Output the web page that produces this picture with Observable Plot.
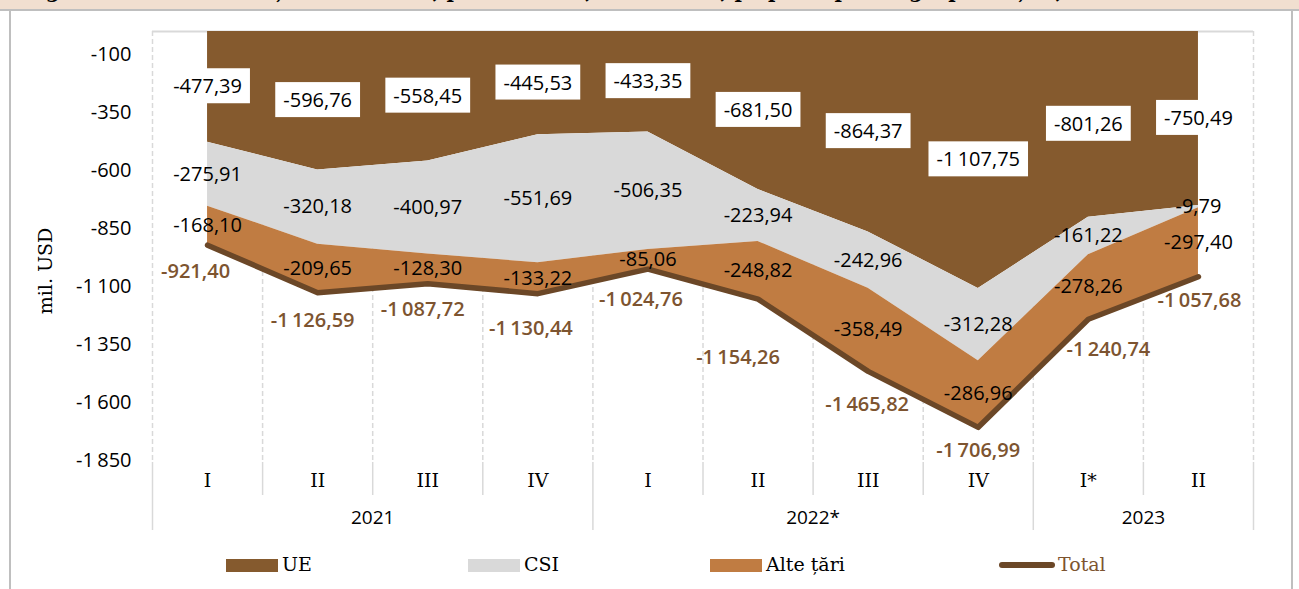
<!DOCTYPE html>
<html>
<head>
<meta charset="utf-8">
<script src="https://cdn.jsdelivr.net/npm/d3@7"></script>
<script src="https://cdn.jsdelivr.net/npm/@observablehq/plot@0.6"></script>
<style>
  body { margin: 0; background: #fff; }
  #wrap { position: relative; width: 1299px; height: 589px; overflow: hidden; background: #fff; }
  #band { position: absolute; left: 0; top: 0; width: 1299px; height: 9px; background: #f1dfd0; border-bottom: 2px solid #bfbfbf; overflow: hidden; z-index: 2; }
  #band span { position: absolute; left: 24px; top: -21px; font: bold 20px "DejaVu Serif", serif; white-space: nowrap; color: #000; }
  #lb, #rb { position: absolute; top: 10px; width: 2px; height: 579px; background: #bfbfbf; z-index: 2; }
  #lb { left: 9px; } #rb { left: 1291px; }
  #chart { position: absolute; left: 0; top: 0; }
  .sw { position: absolute; top: 559px; width: 52px; height: 13px; }
  .lt { position: absolute; top: 553px; height: 25px; line-height: 25px; font: 19px "DejaVu Serif", serif; color: #000; white-space: nowrap; }
  .ln { position: absolute; top: 562px; left: 999px; width: 56px; height: 6px; border-radius: 3px; background: #6b4727; }
</style>
</head>
<body>
<div id="wrap">
  <div id="chart"></div>
  <div id="band"><span>Figura 7. Soldul balanței comerciale, pe trimestre, 2021–2023, pe principalele grupe de țări, mil. USD</span></div>
  <div id="lb"></div><div id="rb"></div>
  <div id="legend"></div>
</div>
<script>
// ---- data ----
const quarters = ["I", "II", "III", "IV", "I", "II", "III", "IV", "I*", "II"];
const years = ["2021", "2021", "2021", "2021", "2022*", "2022*", "2022*", "2022*", "2023", "2023"];
const ue    = [-477.39, -596.76, -558.45, -445.53, -433.35, -681.50, -864.37, -1107.75, -801.26, -750.49];
const csi   = [-275.91, -320.18, -400.97, -551.69, -506.35, -223.94, -242.96, -312.28, -161.22, -9.79];
const alte  = [-168.10, -209.65, -128.30, -133.22, -85.06, -248.82, -358.49, -286.96, -278.26, -297.40];
const total = [-921.40, -1126.59, -1087.72, -1130.44, -1024.76, -1154.26, -1465.82, -1706.99, -1240.74, -1057.68];
const yTicks = [-1850, -1600, -1350, -1100, -850, -600, -350, -100];
const seriesNames = ["UE", "CSI", "Alte țări"];
const totalName = "Total";
const yAxisLabel = "mil. USD";

// ---- styling / layout config ----
const colors = ["#855a2e", "#d9d9d9", "#c07c42"];
const totalColor = "#6b4727";
const totalTextColor = "#7d5430";
// pixel nudges of the total labels relative to their point (as placed in the original)
const totalNudge = [[-12, 26], [-5, 28], [-5, 26], [-7, 35], [-7, 30], [-20, 58], [-1, 33], [0, 23], [20, 30], [1, 24]];

const loc = d3.formatLocale({decimal: ",", thousands: "\u2009", grouping: [3], currency: ["", ""], minus: "-"});
const f2 = loc.format(",.2f");
const f0 = loc.format(",d");

// stacked table
const stack = [];
const vals = [ue, csi, alte];
quarters.forEach((q, i) => {
  let base = 0;
  vals.forEach((arr, s) => {
    const top = base + arr[i];
    stack.push({i, series: seriesNames[s], y1: base, y2: top, v: arr[i], mid: (base + top) / 2});
    base = top;
  });
});
const totals = total.map((v, i) => ({i, v}));
const n = quarters.length;
const bounds = d3.range(n + 1).map(k => k - 0.5);
const yearBounds = bounds.filter((b, k) => k === 0 || k === n || years[k] !== years[k - 1]);
const innerBounds = bounds.filter(b => !yearBounds.includes(b));
const yearGroups = Array.from(d3.group(quarters.map((q, i) => ({i, y: years[i]})), d => d.y), ([y, arr]) => ({year: y, c: d3.mean(arr, d => d.i)}));
const ueRows = stack.filter(d => d.series === seriesNames[0]);
const ueLabelSet = new Set(ueRows.map(d => f2(d.v)));

const W = 1299, H = 545, mT = 31, mB = 85, mL = 152, mR = 46;
const frameH = H - mT - mB;
const numFont = "'Open Sans', sans-serif";
const serifFont = "'DejaVu Serif', serif";

const marks = [
  Plot.ruleX(bounds, {x: d => d, stroke: "#d9d9d9", strokeWidth: 1.5, strokeDasharray: "5,3"}),
  Plot.ruleY([0], {stroke: "#d9d9d9", strokeWidth: 2}),
  Plot.ruleX(innerBounds, {x: d => d, stroke: "#d9d9d9", strokeWidth: 1.5, insetTop: frameH + 2, insetBottom: -35}),
  Plot.ruleX(yearBounds, {x: d => d, stroke: "#d9d9d9", strokeWidth: 1.5, insetTop: frameH + 2, insetBottom: -70}),
  Plot.areaY(stack, {x: "i", y1: "y1", y2: "y2", fill: "series", z: "series"}),
  Plot.line(totals, {x: "i", y: "v", stroke: totalColor, strokeWidth: 5.5}),
  Plot.text(ueRows, {x: "i", y: "mid", text: d => f2(d.v), fontSize: 20, fontFamily: numFont, fill: "#000"}),
  Plot.text(stack.filter(d => d.series !== seriesNames[0]), {x: "i", y: "mid", text: d => f2(d.v), fontSize: 20, fontFamily: numFont, fill: "#000"}),
  ...totals.map((d, k) => Plot.text([d], {x: "i", y: "v", text: t => f2(t.v), dx: totalNudge[k][0], dy: totalNudge[k][1], fontSize: 20, fontWeight: 600, fontFamily: numFont, fill: totalTextColor})),
  Plot.text(yTicks, {y: d => d, frameAnchor: "left", dx: -21, textAnchor: "end", lineAnchor: "middle", text: d => f0(d), fontSize: 20, fontFamily: numFont, fill: "#000"}),
  Plot.text(quarters, {x: (d, i) => i, frameAnchor: "bottom", dy: 20, textAnchor: "middle", lineAnchor: "middle", text: d => d, fontSize: 19, fontFamily: serifFont, fill: "#000"}),
  Plot.text(yearGroups, {x: "c", frameAnchor: "bottom", dy: 57, textAnchor: "middle", lineAnchor: "middle", text: "year", fontSize: 19, fontFamily: numFont, fill: "#000"}),
  Plot.text([yAxisLabel], {frameAnchor: "left", dx: -107, dy: 25, rotate: -90, textAnchor: "middle", lineAnchor: "middle", text: d => d, fontSize: 19, fontFamily: serifFont, fill: "#000"})
];

const svg = Plot.plot({
  width: W, height: H,
  marginTop: mT, marginBottom: mB, marginLeft: mL, marginRight: mR,
  x: {domain: [-0.5, n - 0.5], axis: null},
  y: {domain: [-1850, 0], axis: null},
  color: {domain: seriesNames, range: colors},
  style: {background: "transparent", color: "#000", fontFamily: numFont, overflow: "visible"},
  marks
});
document.getElementById("chart").append(svg);

// white boxes behind UE labels
Array.from(svg.querySelectorAll("text"))
  .filter(t => ueLabelSet.has(t.textContent.trim()))
  .forEach(t => {
    const b = t.getBBox();
    const r = document.createElementNS("http://www.w3.org/2000/svg", "rect");
    r.setAttribute("x", b.x - 8);
    r.setAttribute("y", b.y + b.height / 2 - 17.5);
    r.setAttribute("width", b.width + 16);
    r.setAttribute("height", 35);
    r.setAttribute("fill", "#fff");
    r.setAttribute("stroke", "none");
    const tr = t.getAttribute("transform");
    if (tr) r.setAttribute("transform", tr);
    t.parentNode.insertBefore(r, t);
  });

// legend (HTML)
const legend = document.getElementById("legend");
const legLefts = [226, 468, 710];
seriesNames.forEach((s, k) => {
  const sw = document.createElement("div");
  sw.className = "sw"; sw.style.left = legLefts[k] + "px"; sw.style.background = colors[k];
  legend.append(sw);
  const tx = document.createElement("div");
  tx.className = "lt"; tx.style.left = (legLefts[k] + 56) + "px"; tx.textContent = s;
  legend.append(tx);
});
const ln = document.createElement("div"); ln.className = "ln"; legend.append(ln);
const tt = document.createElement("div"); tt.className = "lt"; tt.style.left = "1058px"; tt.style.color = totalTextColor; tt.textContent = totalName;
legend.append(tt);
</script>
</body>
</html>
